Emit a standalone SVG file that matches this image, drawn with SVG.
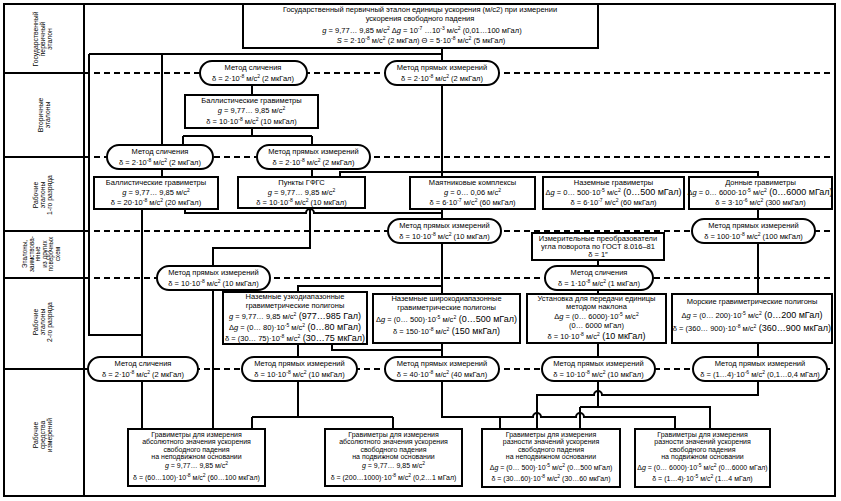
<svg xmlns="http://www.w3.org/2000/svg" width="841" height="501" viewBox="0 0 841 501">
<style>
text{font-family:"Liberation Sans",Arial,sans-serif;font-size:7.5px;fill:#000;text-anchor:middle}
.lb{font-size:6.8px}
.lb6{font-size:6.3px}
.sm{font-size:7px}
.big{font-size:9px}
.sp{font-size:5px}
.i{font-style:italic}
.box{fill:#fff;stroke:#000;stroke-width:2}
.c{fill:none;stroke:#000;stroke-width:2}
.d{fill:none;stroke:#000;stroke-width:2;stroke-dasharray:6 4}
.f{fill:none;stroke:#000;stroke-width:2}
</style>
<rect width="841" height="501" fill="#fff"/>
<g id="frame">
<rect class="f" x="4" y="4" width="831" height="492"/>
<path class="f" d="M84 4V496M4 73H84M4 157H84M4 231H84M4 278H84M4 369H84"/>
</g>
<g id="row-labels">
<text class="lb" transform="translate(42,39) rotate(-90)"><tspan x="0" y="-4.5">Государственный</tspan><tspan x="0" y="2.5">первичный</tspan><tspan x="0" y="9.5">эталон</tspan></text>
<text class="lb" transform="translate(44,115) rotate(-90)"><tspan x="0" y="-1">Вторичные</tspan><tspan x="0" y="6">эталоны</tspan></text>
<text class="lb" transform="translate(42,195) rotate(-90)"><tspan x="0" y="-4.5">Рабочие</tspan><tspan x="0" y="2.5">эталоны</tspan><tspan x="0" y="9.5">1-го разряда</tspan></text>
<text class="lb6" transform="translate(41,254) rotate(-90)"><tspan x="0" y="-14">Эталоны,</tspan><tspan x="0" y="-7.5">заимствова-</tspan><tspan x="0" y="-1">нные</tspan><tspan x="0" y="5.5">из других</tspan><tspan x="0" y="12">поверочных</tspan><tspan x="0" y="18.5">схем</tspan></text>
<text class="lb" transform="translate(42,322) rotate(-90)"><tspan x="0" y="-4.5">Рабочие</tspan><tspan x="0" y="2.5">эталоны</tspan><tspan x="0" y="9.5">2-го разряда</tspan></text>
<text class="lb" transform="translate(42,435) rotate(-90)"><tspan x="0" y="-4.5">Рабочие</tspan><tspan x="0" y="2.5">средства</tspan><tspan x="0" y="9.5">измерений</tspan></text>
</g>
<g id="levels">
<path class="d" d="M84 73H835M84 157H835M84 231H835M84 278H835M84 369H835"/>
</g>
<g id="connectors">
<path class="c" d="M89 54H442M89 54V335H142M162 54V145M442 48V177"/>
<path class="c" d="M252 85V95M252 128V136M183 136H312M183 136V145M312 136V145"/>
<path class="c" d="M162 169V177M312 169V177M340 177V172H758V177"/>
<path class="c" d="M142 209V358M142 381V429"/>
<path class="c" d="M185 209V213H306A4 4 0 0 1 314 213H442"/>
<path class="c" d="M310 208V248H213V266M213 290V429"/>
<path class="c" d="M442 209V219M442 243V294M442 286H298V292"/>
<path class="c" d="M298 344V357M298 381V417M252 417H393M252 417V429M393 417V429"/>
<path class="c" d="M332 344V350H442M442 343V357"/>
<path class="c" d="M442 381V417H533A4 4 0 0 1 541 417H576A4 4 0 0 1 584 417H675V429M500 417V429"/>
<path class="c" d="M758 209V219M758 243V294M758 343V357M758 381V395H602A4 4 0 0 0 594 395H537V429"/>
<path class="c" d="M598 260V266M598 290V294M598 343V357M598 381V407M580 407H710V429M580 407V429"/>
</g>
<g id="n-top">
<rect class="box" x="243" y="4" width="355" height="44"/>
<text x="420" y="12">Государственный первичный эталон единицы ускорения (м/с2) при измерении</text>
<text x="420" y="21">ускорения свободного падения</text>
<text x="422" y="33"><tspan class="i">g</tspan> = 9,77… 9,85 м/с<tspan class="sp" dy="-3">2</tspan><tspan dy="3">  Δ</tspan><tspan class="i">g</tspan> = 10<tspan class="sp" dy="-3">-7</tspan><tspan dy="3"> …10</tspan><tspan class="sp" dy="-3">-3</tspan><tspan dy="3"> м/с</tspan><tspan class="sp" dy="-3">2</tspan><tspan dy="3"> (0,01…100 мГал)</tspan></text>
<text x="421" y="43"><tspan class="i">S</tspan> = 2·10<tspan class="sp" dy="-3">-8</tspan><tspan dy="3"> м/с</tspan><tspan class="sp" dy="-3">2</tspan><tspan dy="3"> (2 мкГал) Θ = 5·10</tspan><tspan class="sp" dy="-3">-8</tspan><tspan dy="3"> м/с</tspan><tspan class="sp" dy="-3">2</tspan><tspan dy="3"> (5 мкГал)</tspan></text>
</g>
<g id="p-sl1">
<rect class="box" x="200" y="61" width="107" height="24" rx="12"/>
<text x="253" y="70">Метод сличения</text>
<text x="253" y="81">δ = 2·10<tspan class="sp" dy="-3">-8</tspan><tspan dy="3"> м/с</tspan><tspan class="sp" dy="-3">2</tspan><tspan dy="3"> (2 мкГал)</tspan></text>
</g>
<g id="p-pr1">
<rect class="box" x="385" y="61" width="114" height="24" rx="12"/>
<text x="442" y="70">Метод прямых измерений</text>
<text x="442" y="81">δ = 2·10<tspan class="sp" dy="-3">-8</tspan><tspan dy="3"> м/с</tspan><tspan class="sp" dy="-3">2</tspan><tspan dy="3"> (2 мкГал)</tspan></text>
</g>
<g id="b-ball1">
<rect class="box" x="185" y="95" width="133" height="33"/>
<text x="251.5" y="103">Баллистические гравиметры</text>
<text x="251.5" y="113"><tspan class="i">g</tspan> = 9,77… 9,85 м/с<tspan class="sp" dy="-3">2</tspan></text>
<text x="251.5" y="124">δ = 10·10<tspan class="sp" dy="-3">-8</tspan><tspan dy="3"> м/с</tspan><tspan class="sp" dy="-3">2</tspan><tspan dy="3"> (10 мкГал)</tspan></text>
</g>
<g id="p-sl2">
<rect class="box" x="107" y="145" width="106" height="24" rx="12"/>
<text x="160" y="154">Метод сличения</text>
<text x="160" y="165">δ = 2·10<tspan class="sp" dy="-3">-8</tspan><tspan dy="3"> м/с</tspan><tspan class="sp" dy="-3">2</tspan><tspan dy="3"> (2 мкГал)</tspan></text>
</g>
<g id="p-pr2">
<rect class="box" x="257" y="145" width="113" height="24" rx="12"/>
<text x="313.5" y="154">Метод прямых измерений</text>
<text x="313.5" y="165">δ = 2·10<tspan class="sp" dy="-3">-8</tspan><tspan dy="3"> м/с</tspan><tspan class="sp" dy="-3">2</tspan><tspan dy="3"> (2 мкГал)</tspan></text>
</g>
<g id="b-ball2">
<rect class="box" x="94" y="177" width="124" height="32"/>
<text x="156" y="185">Баллистические гравиметры</text>
<text x="156" y="195"><tspan class="i">g</tspan> = 9,77… 9,85 м/с<tspan class="sp" dy="-3">2</tspan></text>
<text x="156" y="205">δ = 20·10<tspan class="sp" dy="-3">-8</tspan><tspan dy="3"> м/с</tspan><tspan class="sp" dy="-3">2</tspan><tspan dy="3"> (20 мкГал)</tspan></text>
</g>
<g id="b-gfgs">
<rect class="box" x="238" y="177" width="127" height="31"/>
<text x="301.5" y="185">Пункты ГФГС</text>
<text x="301.5" y="195"><tspan class="i">g</tspan> = 9,77… 9,85 м/с<tspan class="sp" dy="-3">2</tspan></text>
<text x="301.5" y="205">δ = 10·10<tspan class="sp" dy="-3">-8</tspan><tspan dy="3"> м/с</tspan><tspan class="sp" dy="-3">2</tspan><tspan dy="3"> (10 мкГал)</tspan></text>
</g>
<g id="b-pend">
<rect class="box" x="410" y="177" width="125" height="32"/>
<text x="472.5" y="185">Маятниковые комплексы</text>
<text x="472.5" y="195"><tspan class="i">g</tspan> = 0… 0,06 м/с<tspan class="sp" dy="-3">2</tspan></text>
<text x="472.5" y="205">δ = 6·10<tspan class="sp" dy="-3">-7</tspan><tspan dy="3"> м/с</tspan><tspan class="sp" dy="-3">2</tspan><tspan dy="3"> (60 мкГал)</tspan></text>
</g>
<g id="b-ground">
<rect class="box" x="543" y="177" width="141" height="32"/>
<text x="613.5" y="185">Наземные гравиметры</text>
<text x="613.5" y="195">Δ<tspan class="i">g</tspan> = 0… 500·10<tspan class="sp" dy="-3">-5</tspan><tspan dy="3"> м/с</tspan><tspan class="sp" dy="-3">2</tspan><tspan class="big" dy="3"> (0…500 мГал)</tspan></text>
<text x="613.5" y="205">δ = 6·10<tspan class="sp" dy="-3">-7</tspan><tspan dy="3"> м/с</tspan><tspan class="sp" dy="-3">2</tspan><tspan dy="3"> (60 мкГал)</tspan></text>
</g>
<g id="b-bottom">
<rect class="box" x="689" y="177" width="143" height="32"/>
<text x="760.5" y="185">Донные гравиметры</text>
<text x="760" y="195">Δ<tspan class="i">g</tspan> = 0… 6000·10<tspan class="sp" dy="-3">-5</tspan><tspan dy="3"> м/с</tspan><tspan class="sp" dy="-3">2</tspan><tspan class="big" dy="3"> (0…6000 мГал)</tspan></text>
<text x="760.5" y="205">δ = 3·10<tspan class="sp" dy="-3">-6</tspan><tspan dy="3"> м/с</tspan><tspan class="sp" dy="-3">2</tspan><tspan dy="3"> (300 мкГал)</tspan></text>
</g>
<g id="p-pr3">
<rect class="box" x="388" y="219" width="113" height="24" rx="12"/>
<text x="444.5" y="228">Метод прямых измерений</text>
<text x="444.5" y="239">δ = 10·10<tspan class="sp" dy="-3">-8</tspan><tspan dy="3"> м/с</tspan><tspan class="sp" dy="-3">2</tspan><tspan dy="3"> (10 мкГал)</tspan></text>
</g>
<g id="p-pr4">
<rect class="box" x="692" y="219" width="123" height="24" rx="12"/>
<text x="753.5" y="228">Метод прямых измерений</text>
<text x="753.5" y="239">δ = 100·10<tspan class="sp" dy="-3">-8</tspan><tspan dy="3"> м/с</tspan><tspan class="sp" dy="-3">2</tspan><tspan dy="3"> (100 мкГал)</tspan></text>
</g>
<g id="b-angle">
<rect class="box" x="532" y="233" width="132" height="27"/>
<text x="598" y="240.5">Измерительные преобразователи</text>
<text x="598" y="248.5">угла поворота по ГОСТ 8.016–81</text>
<text x="598" y="257">δ = 1″</text>
</g>
<g id="p-pr5">
<rect class="box" x="157" y="266" width="113" height="24" rx="12"/>
<text x="213.5" y="275">Метод прямых измерений</text>
<text x="213.5" y="286">δ = 10·10<tspan class="sp" dy="-3">-8</tspan><tspan dy="3"> м/с</tspan><tspan class="sp" dy="-3">2</tspan><tspan dy="3"> (10 мкГал)</tspan></text>
</g>
<g id="p-sl3">
<rect class="box" x="545" y="266" width="108" height="24" rx="12"/>
<text x="599" y="275">Метод сличения</text>
<text x="599" y="286">δ = 1·10<tspan class="sp" dy="-3">-8</tspan><tspan dy="3"> м/с</tspan><tspan class="sp" dy="-3">2</tspan><tspan dy="3"> (1 мкГал)</tspan></text>
</g>
<g id="b-narrow">
<rect class="box" x="223" y="292" width="144" height="52"/>
<text x="295" y="299">Наземные узкодиапазонные</text>
<text x="295" y="307.5">гравиметрические полигоны</text>
<text x="295" y="318.5"><tspan class="i">g</tspan> = 9,77… 9,85 м/с<tspan class="sp" dy="-3">2</tspan><tspan class="big" dy="3"> (977…985 Гал)</tspan></text>
<text x="295" y="329.5">Δ<tspan class="i">g</tspan> = (0… 80)·10<tspan class="sp" dy="-3">-5</tspan><tspan dy="3"> м/с</tspan><tspan class="sp" dy="-3">2</tspan><tspan class="big" dy="3"> (0…80 мГал)</tspan></text>
<text x="295" y="340.5">δ = (30… 75)·10<tspan class="sp" dy="-3">-8</tspan><tspan dy="3"> м/с</tspan><tspan class="sp" dy="-3">2</tspan><tspan class="big" dy="3"> (30…75 мкГал)</tspan></text>
</g>
<g id="b-wide">
<rect class="box" x="373" y="294" width="147" height="49"/>
<text x="446.5" y="301">Наземные широкодиапазонные</text>
<text x="446.5" y="309.5">гравиметрические полигоны</text>
<text x="446.5" y="322">Δ<tspan class="i">g</tspan> = (0… 500)·10<tspan class="sp" dy="-3">-5</tspan><tspan dy="3"> м/с</tspan><tspan class="sp" dy="-3">2</tspan><tspan class="big" dy="3"> (0…500 мГал)</tspan></text>
<text x="446.5" y="334">δ = 150·10<tspan class="sp" dy="-3">-8</tspan><tspan dy="3"> м/с</tspan><tspan class="sp" dy="-3">2</tspan><tspan class="big" dy="3"> (150 мкГал)</tspan></text>
</g>
<g id="b-tilt">
<rect class="box" x="527" y="294" width="139" height="49"/>
<text x="596.5" y="301">Установка для передачи единицы</text>
<text x="596.5" y="309">методом наклона</text>
<text x="596.5" y="319">Δ<tspan class="i">g</tspan> = (0… 6000)·10<tspan class="sp" dy="-3">-5</tspan><tspan dy="3"> м/с</tspan><tspan class="sp" dy="-3">2</tspan></text>
<text x="596.5" y="328">(0… 6000 мГал)</text>
<text x="596.5" y="339">δ = 10·10<tspan class="sp" dy="-3">-8</tspan><tspan dy="3"> м/с</tspan><tspan class="sp" dy="-3">2</tspan><tspan class="big" dy="3"> (10 мкГал)</tspan></text>
</g>
<g id="b-sea">
<rect class="box" x="672" y="294" width="160" height="49"/>
<text x="752" y="304">Морские гравиметрические полигоны</text>
<text x="752" y="318">Δ<tspan class="i">g</tspan> = (0… 200)·10<tspan class="sp" dy="-3">-5</tspan><tspan dy="3"> м/с</tspan><tspan class="sp" dy="-3">2</tspan><tspan class="big" dy="3"> (0…200 мГал)</tspan></text>
<text x="752" y="331">δ = (360… 900)·10<tspan class="sp" dy="-3">-8</tspan><tspan dy="3"> м/с</tspan><tspan class="sp" dy="-3">2</tspan><tspan class="big" dy="3"> (360…900 мкГал)</tspan></text>
</g>
<g id="p-sl4">
<rect class="box" x="88" y="357" width="110" height="24" rx="12"/>
<text x="143" y="366">Метод сличения</text>
<text x="143" y="377">δ = 2·10<tspan class="sp" dy="-3">-8</tspan><tspan dy="3"> м/с</tspan><tspan class="sp" dy="-3">2</tspan><tspan dy="3"> (2 мкГал)</tspan></text>
</g>
<g id="p-pr6">
<rect class="box" x="242" y="357" width="115" height="24" rx="12"/>
<text x="299.5" y="366">Метод прямых измерений</text>
<text x="299.5" y="377">δ = 10·10<tspan class="sp" dy="-3">-8</tspan><tspan dy="3"> м/с</tspan><tspan class="sp" dy="-3">2</tspan><tspan dy="3"> (10 мкГал)</tspan></text>
</g>
<g id="p-pr7">
<rect class="box" x="385" y="357" width="114" height="24" rx="12"/>
<text x="442" y="366">Метод прямых измерений</text>
<text x="442" y="377">δ = 40·10<tspan class="sp" dy="-3">-8</tspan><tspan dy="3"> м/с</tspan><tspan class="sp" dy="-3">2</tspan><tspan dy="3"> (40 мкГал)</tspan></text>
</g>
<g id="p-pr8">
<rect class="box" x="542" y="357" width="113" height="24" rx="12"/>
<text x="598.5" y="366">Метод прямых измерений</text>
<text x="598.5" y="377">δ = 10·10<tspan class="sp" dy="-3">-8</tspan><tspan dy="3"> м/с</tspan><tspan class="sp" dy="-3">2</tspan><tspan dy="3"> (10 мкГал)</tspan></text>
</g>
<g id="p-pr9">
<rect class="box" x="693" y="357" width="134" height="24" rx="12"/>
<text x="760" y="366">Метод прямых измерений</text>
<text x="760" y="377">δ = (1…4)·10<tspan class="sp" dy="-3">-6</tspan><tspan dy="3"> м/с</tspan><tspan class="sp" dy="-3">2</tspan><tspan dy="3"> (0,1…0,4 мГал)</tspan></text>
</g>
<g id="b-abs-fixed" class="sm">
<rect class="box" x="128" y="429" width="137" height="57"/>
<text class="sm" x="196.5" y="436.5">Гравиметры для измерения</text>
<text class="sm" x="196.5" y="444">абсолютного значения ускорения</text>
<text class="sm" x="196.5" y="451.5">свободного падения</text>
<text class="sm" x="196.5" y="459">на неподвижном основании</text>
<text class="sm" x="196.5" y="468"><tspan class="i">g</tspan> = 9,77… 9,85 м/с<tspan class="sp" dy="-3">2</tspan></text>
<text class="sm" x="196.5" y="480">δ = (60…100)·10<tspan class="sp" dy="-3">-8</tspan><tspan dy="3"> м/с</tspan><tspan class="sp" dy="-3">2</tspan><tspan dy="3"> (60…100 мкГал)</tspan></text>
</g>
<g id="b-abs-mov">
<rect class="box" x="325" y="429" width="137" height="57"/>
<text class="sm" x="393.5" y="436.5">Гравиметры для измерения</text>
<text class="sm" x="393.5" y="444">абсолютного значения ускорения</text>
<text class="sm" x="393.5" y="451.5">свободного падения</text>
<text class="sm" x="393.5" y="459">на подвижном основании</text>
<text class="sm" x="393.5" y="468"><tspan class="i">g</tspan> = 9,77… 9,85 м/с<tspan class="sp" dy="-3">2</tspan></text>
<text class="sm" x="393.5" y="480">δ = (200…1000)·10<tspan class="sp" dy="-3">-8</tspan><tspan dy="3"> м/с</tspan><tspan class="sp" dy="-3">2</tspan><tspan dy="3"> (0,2…1 мГал)</tspan></text>
</g>
<g id="b-rel-fixed">
<rect class="box" x="482" y="429" width="138" height="58"/>
<text class="sm" x="551" y="436.5">Гравиметры для измерения</text>
<text class="sm" x="551" y="444">разности значений ускорения</text>
<text class="sm" x="551" y="451.5">свободного падения</text>
<text class="sm" x="551" y="459">на неподвижном основании</text>
<text class="sm" x="551" y="469.5">Δ<tspan class="i">g</tspan> = (0… 500)·10<tspan class="sp" dy="-3">-5</tspan><tspan dy="3"> м/с</tspan><tspan class="sp" dy="-3">2</tspan><tspan dy="3"> (0…500 мГал)</tspan></text>
<text class="sm" x="551" y="480.5">δ = (30…60)·10<tspan class="sp" dy="-3">-8</tspan><tspan dy="3"> м/с</tspan><tspan class="sp" dy="-3">2</tspan><tspan dy="3"> (30…60 мкГал)</tspan></text>
</g>
<g id="b-rel-mov">
<rect class="box" x="635" y="429" width="135" height="58"/>
<text class="sm" x="702.5" y="436.5">Гравиметры для измерения</text>
<text class="sm" x="702.5" y="444">разности значений ускорения</text>
<text class="sm" x="702.5" y="451.5">свободного падения</text>
<text class="sm" x="702.5" y="459">на подвижном основании</text>
<text class="sm" x="702.5" y="469.5">Δ<tspan class="i">g</tspan> = (0… 6000)·10<tspan class="sp" dy="-3">-5</tspan><tspan dy="3"> м/с</tspan><tspan class="sp" dy="-3">2</tspan><tspan dy="3"> (0…6000 мГал)</tspan></text>
<text class="sm" x="702.5" y="480.5">δ = (1…4)·10<tspan class="sp" dy="-3">-5</tspan><tspan dy="3"> м/с</tspan><tspan class="sp" dy="-3">2</tspan><tspan dy="3"> (1…4 мГал)</tspan></text>
</g>
</svg>
